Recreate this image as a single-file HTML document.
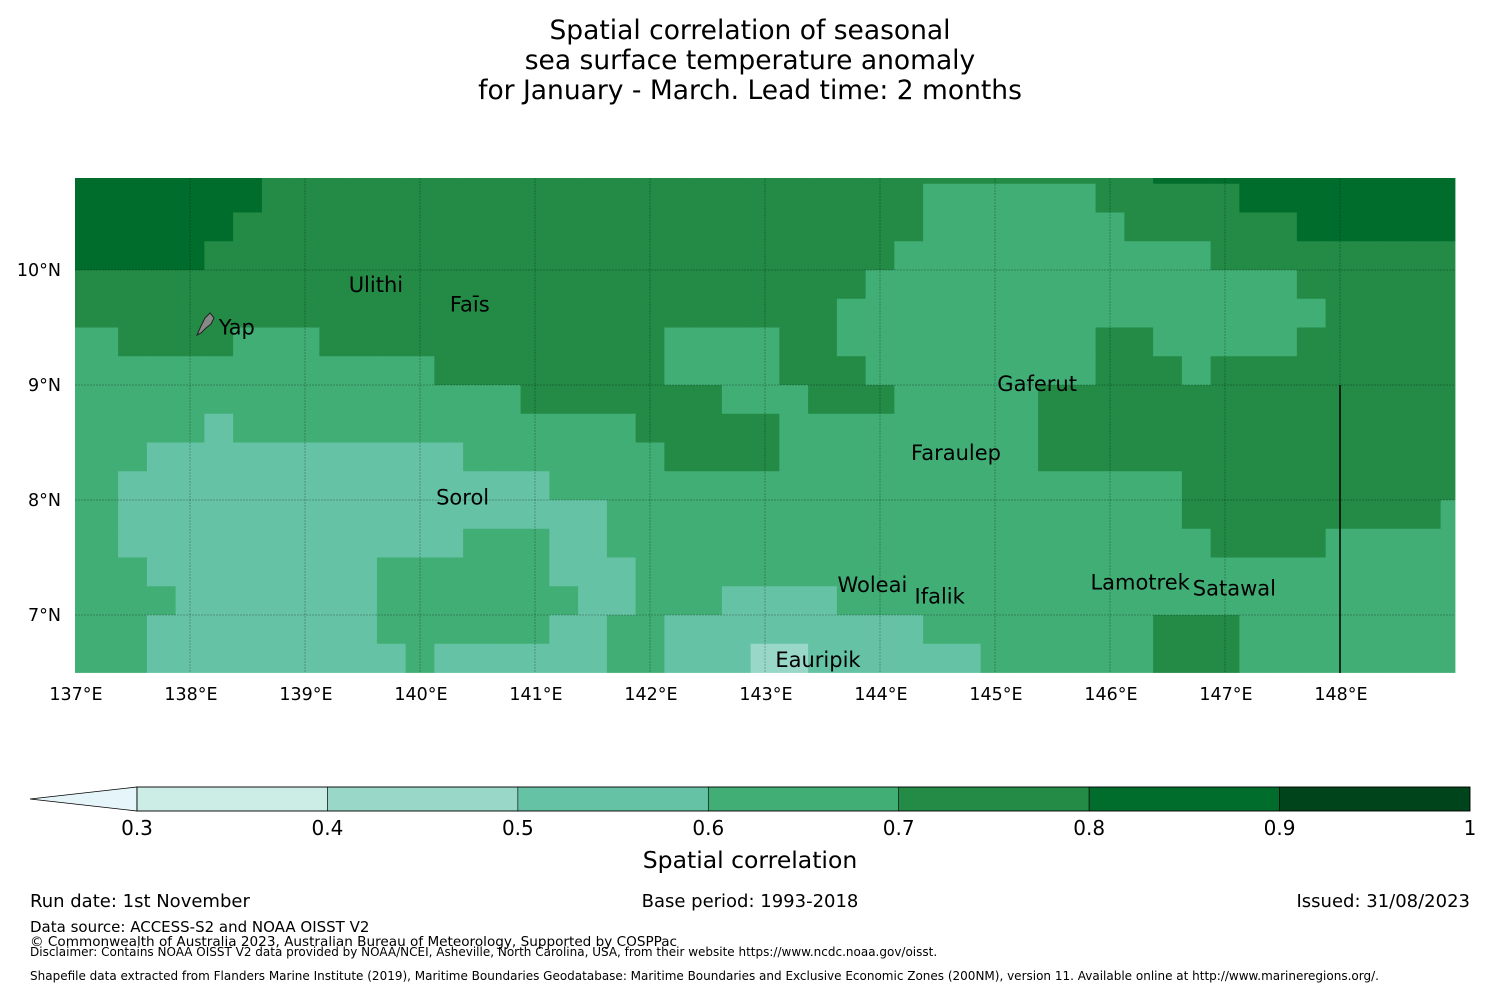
<!DOCTYPE html>
<html><head><meta charset="utf-8">
<style>
html,body{margin:0;padding:0;background:#fff;}
svg{display:block;font-family:"DejaVu Sans","Liberation Sans",sans-serif;}
</style></head>
<body>
<svg id="fig" width="1500" height="990" viewBox="0 0 1500 990" xmlns="http://www.w3.org/2000/svg">
<rect width="1500" height="990" fill="#fff"/>
<g font-size="26.5" text-anchor="middle" fill="#000">
<text x="750" y="39">Spatial correlation of seasonal</text>
<text x="750" y="69">sea surface temperature anomaly</text>
<text x="750" y="99">for January - March. Lead time: 2 months</text>
</g>
<g id="map"></g>
<g id="gridlines"></g>
<line x1="1340" y1="385" x2="1340" y2="673" stroke="#000" stroke-width="1.5"/>
<g id="axes" font-size="17.5" fill="#000"></g>
<g id="islands" font-size="21" fill="#000"></g>
<g id="cbar"></g>
<text x="750" y="868" font-size="23.5" text-anchor="middle">Spatial correlation</text>
<g fill="#000">
<text x="30" y="907" font-size="18">Run date: 1st November</text>
<text x="750" y="907" font-size="18" text-anchor="middle">Base period: 1993-2018</text>
<text x="1470" y="907" font-size="18" text-anchor="end">Issued: 31/08/2023</text>
<text x="30" y="932" font-size="15">Data source: ACCESS-S2 and NOAA OISST V2</text>
<text x="30" y="946" font-size="13.6">© Commonwealth of Australia 2023, Australian Bureau of Meteorology, Supported by COSPPac</text>
<text x="30" y="956" font-size="12">Disclaimer: Contains NOAA OISST V2 data provided by NOAA/NCEI, Asheville, North Carolina, USA, from their website https://www.ncdc.noaa.gov/oisst.</text>
<text x="30" y="980" font-size="12">Shapefile data extracted from Flanders Marine Institute (2019), Maritime Boundaries Geodatabase: Maritime Boundaries and Exclusive Economic Zones (200NM), version 11. Available online at http://www.marineregions.org/.</text>
</g>
</svg>
<script>
// grid definition: longitudes of cell centres 137..149 step 0.25, latitude rows top to bottom
const lonStart = 137, lonStep = 0.25, nCols = 49;
const rowLatTop = [10.8,10.75,10.5,10.25,10.0,9.75,9.5,9.25,9.0,8.75,8.5,8.25,8.0,7.75,7.5,7.25,7.0,6.75];
const rowLatBottom = [10.75,10.5,10.25,10.0,9.75,9.5,9.25,9.0,8.75,8.5,8.25,8.0,7.75,7.5,7.25,7.0,6.75,6.5];
// correlation per row as run-length pairs [correlation, number of cells]
const corrRuns = [
[[0.85,7],[0.75,31],[0.85,11]],
[[0.85,7],[0.75,23],[0.65,6],[0.75,5],[0.85,8]],
[[0.85,6],[0.75,24],[0.65,7],[0.75,6],[0.85,6]],
[[0.85,5],[0.75,24],[0.65,11],[0.75,9]],
[[0.75,28],[0.65,15],[0.75,6]],
[[0.75,27],[0.65,17],[0.75,5]],
[[0.65,2],[0.75,4],[0.65,3],[0.75,12],[0.65,4],[0.75,2],[0.65,9],[0.75,2],[0.65,5],[0.75,6]],
[[0.65,13],[0.75,8],[0.65,4],[0.75,3],[0.65,8],[0.75,3],[0.65,1],[0.75,9]],
[[0.65,16],[0.75,7],[0.65,3],[0.75,3],[0.65,5],[0.75,15]],
[[0.65,5],[0.55,1],[0.65,14],[0.75,5],[0.65,9],[0.75,15]],
[[0.65,3],[0.55,11],[0.65,7],[0.75,4],[0.65,9],[0.75,15]],
[[0.65,2],[0.55,15],[0.65,22],[0.75,10]],
[[0.65,2],[0.55,17],[0.65,20],[0.75,9],[0.65,1]],
[[0.65,2],[0.55,12],[0.65,3],[0.55,2],[0.65,21],[0.75,4],[0.65,5]],
[[0.65,3],[0.55,8],[0.65,6],[0.55,3],[0.65,29]],
[[0.65,4],[0.55,7],[0.65,7],[0.55,2],[0.65,3],[0.55,4],[0.65,22]],
[[0.65,3],[0.55,8],[0.65,6],[0.55,2],[0.65,2],[0.55,9],[0.65,8],[0.75,3],[0.65,8]],
[[0.65,3],[0.55,9],[0.65,1],[0.55,6],[0.65,2],[0.55,3],[0.45,2],[0.55,6],[0.65,6],[0.75,3],[0.65,8]]
];
const tickLons = [137,138,139,140,141,142,143,144,145,146,147,148];
const tickLabelsLon = ["137°E","138°E","139°E","140°E","141°E","142°E","143°E","144°E","145°E","146°E","147°E","148°E"];
const tickLats = [10,9,8,7];
const tickLabelsLat = ["10°N","9°N","8°N","7°N"];
const cbarLevels = [0.3,0.4,0.5,0.6,0.7,0.8,0.9,1.0];
const cbarLabels = ["0.3","0.4","0.5","0.6","0.7","0.8","0.9","1"];
const islandNames = ["Ulithi","Faīs","Yap","Gaferut","Faraulep","Sorol","Woleai","Ifalik","Lamotrek","Satawal","Eauripik"];
const islandLon = [139.38,140.26,138.25,145.02,144.27,140.14,143.63,144.3,145.83,146.72,143.09];
const islandLat = [9.81,9.64,9.44,8.95,8.35,7.96,7.2,7.1,7.22,7.17,6.55];

const palette = {2:"#e5f5f9",3:"#ccece6",4:"#99d8c9",5:"#66c2a4",6:"#41ae76",7:"#238b45",8:"#006d2c",9:"#00441b"};
const X0=75, X1=1455, Y0=178, Y1=673;
const xs = lon => X0 + (lon-137)*115;
const ys = lat => 270 - (lat-10)*115;
const NS="http://www.w3.org/2000/svg";
function mk(tag, attrs){const e=document.createElementNS(NS,tag);for(const k in attrs)e.setAttribute(k,attrs[k]);return e;}

const map=document.getElementById('map');
corrRuns.forEach((runs,r)=>{
  let c=0;
  runs.forEach(([val,n])=>{
    for(let k=0;k<n;k++,c++){
      const cls = Math.min(9,Math.floor(val*10+1e-9));
      const lon = lonStart+c*lonStep;
      const xa = Math.max(X0, xs(lon-lonStep/2)), xb = Math.min(X1, xs(lon+lonStep/2));
      if(xb<=xa) continue;
      const ya = ys(rowLatTop[r]), yb = ys(rowLatBottom[r]);
      const rect = mk('rect',{x:xa,y:ya,width:xb-xa+0.4,height:yb-ya+0.4,fill:palette[cls]});
      
      
      map.appendChild(rect);
    }
  });
});

const gl=document.getElementById('gridlines');
tickLons.slice(1).forEach(lon=>{
  const l=mk('line',{x1:xs(lon),x2:xs(lon),y1:Y0,y2:Y1,stroke:"#000","stroke-opacity":0.25,"stroke-width":1,"stroke-dasharray":"2,1"});
  
  
  gl.appendChild(l);
});
tickLats.forEach(lat=>{
  const l=mk('line',{x1:X0,x2:X1,y1:ys(lat),y2:ys(lat),stroke:"#000","stroke-opacity":0.25,"stroke-width":1,"stroke-dasharray":"2,1"});
  
  
  gl.appendChild(l);
});

const ax=document.getElementById('axes');
tickLons.forEach((lon,i)=>{
  const t=mk('text',{x:xs(lon)+1,y:700,"text-anchor":"middle"});
  t.textContent=tickLabelsLon[i];
  
  
  ax.appendChild(t);
});
tickLats.forEach((lat,i)=>{
  const t=mk('text',{x:61,y:ys(lat)+6,"text-anchor":"end"});
  t.textContent=tickLabelsLat[i];
  
  
  ax.appendChild(t);
});

const isl=document.getElementById('islands');
const yapIcon=mk('path',{d:"M197,335 L201,326 L205,318 L210,313 L214,318 L211,324 L206,328 L201,333 Z",fill:"#888",stroke:"#222","stroke-width":1});


isl.appendChild(yapIcon);
islandNames.forEach((n,i)=>{
  const t=mk('text',{x:xs(islandLon[i]),y:ys(islandLat[i])});
  t.textContent=n;
  
  
  isl.appendChild(t);
});

const cb=document.getElementById('cbar');
const CX0=137, CX1=1470, CY0=787, CY1=811;
const cx = v => CX0 + (v-0.3)/(0.7)*(CX1-CX0);
const tri=mk('path',{d:`M30,799 L${CX0},${CY0} L${CX0},${CY1} Z`,fill:palette[2],stroke:"#000","stroke-width":0.8});


cb.appendChild(tri);
for(let i=0;i<cbarLevels.length-1;i++){
  const cls=Math.round(cbarLevels[i]*10);
  const r=mk('rect',{x:cx(cbarLevels[i]),y:CY0,width:cx(cbarLevels[i+1])-cx(cbarLevels[i]),height:CY1-CY0,fill:palette[cls],stroke:"#000","stroke-width":0.6});
  
  
  cb.appendChild(r);
}
const border=mk('rect',{x:CX0,y:CY0,width:CX1-CX0,height:CY1-CY0,fill:"none",stroke:"#000","stroke-width":0.8});


cb.appendChild(border);
cbarLevels.forEach((v,i)=>{
  const t=mk('text',{x:cx(v),y:835,"text-anchor":"middle","font-size":20});
  t.textContent=cbarLabels[i];
  
  
  cb.appendChild(t);
});
</script>
</body></html>
